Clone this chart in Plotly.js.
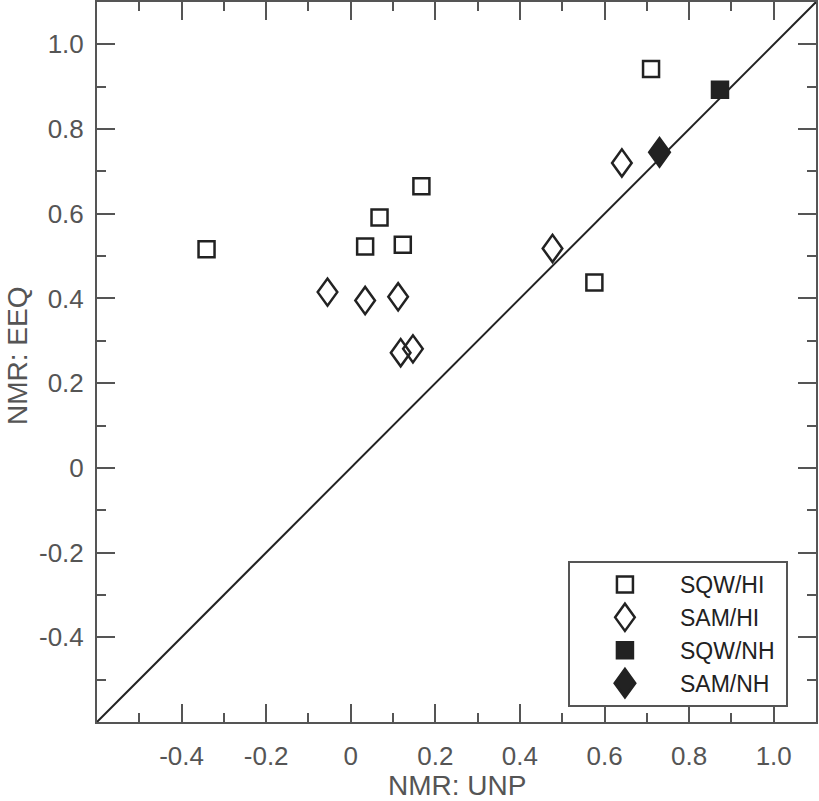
<!DOCTYPE html>
<html>
<head>
<meta charset="utf-8">
<script src="https://cdn.plot.ly/plotly-3.0.1.min.js"></script>
<style>
  html, body { margin: 0; padding: 0; background: #ffffff; }
  #chart { width: 819px; height: 801px; }
</style>
</head>
<body>
<div id="chart"></div>
<script>
// ---- data ----
const seriesNames = ["SQW/HI", "SAM/HI", "SQW/NH", "SAM/NH"];

const sqwHiUNP = [-0.341, 0.167, 0.068, 0.034, 0.123, 0.710, 0.576];
const sqwHiEEQ = [0.516, 0.665, 0.591, 0.523, 0.527, 0.942, 0.438];

const samHiUNP = [-0.055, 0.034, 0.112, 0.118, 0.147, 0.477, 0.641];
const samHiEEQ = [0.415, 0.395, 0.404, 0.272, 0.281, 0.518, 0.720];

const sqwNhUNP = [0.873];
const sqwNhEEQ = [0.893];

const samNhUNP = [0.730];
const samNhEEQ = [0.745];

// identity line y = x across the axis range
const identityX = [-0.6, 1.1];
const identityY = [-0.6, 1.1];

const tickVals = [-0.4, -0.2, 0, 0.2, 0.4, 0.6, 0.8, 1.0];
const tickText = ["-0.4", "-0.2", "0", "0.2", "0.4", "0.6", "0.8", "1.0"];

const xTitle = "NMR: UNP";
const yTitle = "NMR: EEQ";

// ---- style ----
const ink = "#222222";
const axisGray = "#555555";
const font = "Liberation Sans, Arial, sans-serif";
const pad = "\u00a0";

const traces = [
  { x: identityX, y: identityY, mode: "lines", line: { color: ink, width: 2 },
    showlegend: false, hoverinfo: "skip" },
  { x: sqwHiUNP, y: sqwHiEEQ, name: seriesNames[0] + pad, mode: "markers", cliponaxis: false,
    marker: { symbol: "square-open", size: 16, color: ink, line: { width: 2.5, color: ink } } },
  { x: samHiUNP, y: samHiEEQ, name: seriesNames[1] + pad, mode: "markers", cliponaxis: false,
    marker: { symbol: "diamond-open", size: 15, color: ink, line: { width: 2.5, color: ink } } },
  { x: sqwNhUNP, y: sqwNhEEQ, name: seriesNames[2] + pad, mode: "markers", cliponaxis: false,
    marker: { symbol: "square", size: 16, color: ink, line: { width: 2.5, color: ink } } },
  { x: samNhUNP, y: samNhEEQ, name: seriesNames[3] + pad, mode: "markers", cliponaxis: false,
    marker: { symbol: "diamond", size: 15, color: ink, line: { width: 2.5, color: ink } } }
];

function axisCommon() {
  return {
    range: [-0.6, 1.1],
    tickmode: "array",
    tickvals: tickVals,
    ticktext: tickText,
    ticks: "inside",
    ticklen: 18,
    tickwidth: 2,
    tickcolor: axisGray,
    minor: { dtick: 0.1, tick0: 0, ticks: "inside", ticklen: 9, tickwidth: 2, tickcolor: axisGray, showgrid: false },
    showline: true,
    linecolor: axisGray,
    linewidth: 2,
    mirror: "ticks",
    showgrid: false,
    zeroline: false,
    tickfont: { family: font, size: 26, color: axisGray },
    fixedrange: true
  };
}

const xaxis = axisCommon();
xaxis.ticklabelstandoff = 10;
const yaxis = axisCommon();
yaxis.ticklabelstandoff = 6;

const titleFont = { family: font, size: 28, color: axisGray };

const layout = {
  width: 819,
  height: 801,
  margin: { l: 97, r: 3, t: 2, b: 79, pad: 0 },
  paper_bgcolor: "#ffffff",
  plot_bgcolor: "#ffffff",
  font: { family: font, color: ink },
  xaxis: xaxis,
  yaxis: yaxis,
  showlegend: true,
  legend: {
    x: 0.655, y: 0.2236, xanchor: "left", yanchor: "top",
    bgcolor: "#ffffff",
    bordercolor: axisGray,
    borderwidth: 2,
    itemwidth: 100,
    font: { family: font, size: 23, color: ink }
  },
  annotations: [
    { text: xTitle, xref: "paper", yref: "paper", x: 0.5, y: 0, xanchor: "center", yanchor: "middle",
      yshift: -63, showarrow: false, font: titleFont },
    { text: yTitle, xref: "paper", yref: "paper", x: 0, y: 0.5, xanchor: "center", yanchor: "middle",
      xshift: -80, yshift: 6, textangle: -90, showarrow: false, font: titleFont }
  ]
};

// make diamonds taller than wide, as in the reference
function stretchDiamonds(gd) {
  const paths = gd.querySelectorAll("path.point, .legendpoints path.scatterpts");
  paths.forEach(function (p) {
    const d = p.getAttribute("d") || "";
    if (d.indexOf("H") === -1 && /^M[\d.]+,0L0,[\d.]+L-[\d.]+,0L0,-[\d.]+Z$/.test(d)) {
      const filled = (p.style.fill && p.style.fill !== "none" && p.style.fill !== "rgba(0, 0, 0, 0)");
      const w = filled ? 10.3 : 9.8;
      const h = filled ? 14.2 : 13.6;
      p.setAttribute("d", "M" + w + ",0L0," + h + "L-" + w + ",0L0,-" + h + "Z");
    }
  });
}

Plotly.newPlot("chart", traces, layout, { staticPlot: true, displayModeBar: false })
  .then(function (gd) { stretchDiamonds(gd); });
</script>
</body>
</html>
